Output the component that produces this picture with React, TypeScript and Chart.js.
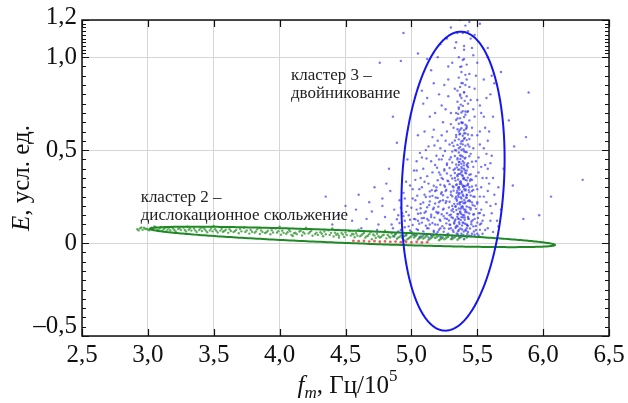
import React, { useEffect, useRef } from "react";
import { Chart, registerables } from "chart.js";
Chart.register(...registerables);

// ---------- axes ----------
const xMin = 2.5;
const xMax = 6.5;
const yMin = -0.5;
const yMax = 1.2;
const xTickValues = [2.5, 3.0, 3.5, 4.0, 4.5, 5.0, 5.5, 6.0, 6.5];
const xTickLabels = ["2,5", "3,0", "3,5", "4,0", "4,5", "5,0", "5,5", "6,0", "6,5"];
const yTickValues = [-0.5, 0, 0.5, 1.0, 1.2];
const yTickLabels = ["–0,5", "0", "0,5", "1,0", "1,2"];
const yMinorLower = [-0.45, -0.4, -0.35, -0.3, -0.25, -0.2, -0.15, -0.1, -0.05, 0.05, 0.1, 0.15, 0.2, 0.25, 0.3, 0.35, 0.4, 0.45, 0.55, 0.6, 0.65, 0.7, 0.75, 0.8, 0.85, 0.9, 0.95];
const yMinorUpper = [1.02, 1.04, 1.06, 1.08, 1.1, 1.12, 1.14, 1.16, 1.18];

// ---------- series ----------
const bluePoints: number[][] = [
  [5.38,0.05],[5.41,0.07],[5.35,0.09],[5.44,0.04],[5.32,0.06],[5.39,0.11],[5.36,0.13],[5.42,0.10],[5.30,0.08],[5.47,0.09],
  [5.40,0.15],[5.37,0.17],[5.43,0.14],[5.33,0.12],[5.45,0.18],[5.39,0.19],[5.35,0.21],[5.41,0.22],[5.29,0.15],[5.48,0.13],
  [5.38,0.24],[5.42,0.26],[5.36,0.27],[5.40,0.29],[5.34,0.25],[5.44,0.23],[5.31,0.20],[5.46,0.28],[5.39,0.31],[5.37,0.33],
  [5.41,0.34],[5.35,0.36],[5.43,0.32],[5.38,0.38],[5.40,0.40],[5.36,0.42],[5.42,0.39],[5.33,0.35],[5.45,0.37],[5.39,0.44],
  [5.37,0.03],[5.43,0.06],[5.34,0.04],[5.40,0.02],[5.46,0.05],[5.28,0.05],[5.31,0.03],[5.49,0.07],[5.36,0.07],[5.42,0.08],
  [5.385,0.095],[5.405,0.125],[5.355,0.155],[5.425,0.165],[5.375,0.185],[5.395,0.215],[5.345,0.235],[5.415,0.245],[5.365,0.265],[5.435,0.285],
  [5.325,0.105],[5.455,0.115],[5.315,0.135],[5.475,0.155],[5.305,0.175],[5.465,0.205],[5.335,0.195],[5.445,0.225],[5.355,0.295],[5.405,0.305],
  [5.375,0.325],[5.395,0.345],[5.385,0.365],[5.415,0.375],[5.355,0.395],[5.425,0.415],[5.365,0.435],[5.405,0.455],[5.345,0.315],[5.445,0.335],
  [5.29,0.10],[5.30,0.26],[5.32,0.30],[5.47,0.25],[5.48,0.20],[5.50,0.11],[5.27,0.13],[5.44,0.30],[5.46,0.34],[5.33,0.40],
  [5.38,0.14],[5.41,0.18],[5.37,0.22],[5.39,0.26],[5.36,0.30],[5.42,0.31],[5.40,0.35],[5.38,0.41],[5.43,0.43],[5.35,0.45],
  [5.352,0.048],[5.398,0.062],[5.418,0.038],[5.372,0.078],[5.338,0.088],[5.428,0.092],[5.362,0.112],[5.408,0.104],[5.392,0.138],[5.348,0.142],
  [5.432,0.132],[5.378,0.158],[5.412,0.172],[5.342,0.178],[5.388,0.198],[5.438,0.192],[5.368,0.208],[5.402,0.232],[5.358,0.248],[5.422,0.258],
  [5.382,0.272],[5.348,0.282],[5.412,0.288],[5.392,0.302],[5.368,0.318],[5.428,0.352],[5.382,0.388],[5.358,0.372],[5.398,0.418],[5.372,0.452],
  [5.38,0.47],[5.41,0.49],[5.36,0.51],[5.43,0.53],[5.39,0.55],[5.34,0.57],[5.40,0.59],[5.37,0.61],[5.42,0.63],[5.38,0.65],
  [5.35,0.67],[5.41,0.69],[5.39,0.71],[5.36,0.73],[5.43,0.75],[5.38,0.78],[5.40,0.81],[5.37,0.84],[5.33,0.50],[5.45,0.48],
  [5.31,0.54],[5.46,0.58],[5.32,0.62],[5.44,0.66],[5.30,0.70],[5.47,0.72],[5.35,0.76],[5.42,0.79],[5.39,0.86],[5.36,0.89],
  [5.395,0.505],[5.375,0.535],[5.405,0.565],[5.365,0.585],[5.415,0.615],[5.385,0.645],[5.355,0.695],[5.425,0.705],[5.375,0.745],[5.405,0.765],
  [5.38,0.92],[5.42,0.96],[5.36,1.00],[5.40,1.04],[5.34,1.08],[5.45,1.10],[5.39,1.13],[5.41,1.17],[5.30,1.16],[5.52,1.18],
  [5.28,0.95],[5.49,0.90],[5.25,0.85],[5.55,0.88],[5.20,1.00],[5.58,1.05],[5.15,0.93],[5.47,1.01],[5.33,1.05],[5.44,0.84],
  [5.12,0.78],[5.60,0.80],[5.18,0.70],[5.52,0.74],[5.08,0.82],[5.63,0.86],[5.24,0.65],[5.56,0.62],[5.05,1.02],[4.92,0.98],
  [5.37,1.20],[5.44,1.19],[5.68,0.92],[5.27,1.10],[5.50,0.97],[5.10,0.60],[5.20,0.55],[5.58,0.55],[5.62,0.68],[5.48,0.83],
  [5.25,0.08],[5.22,0.12],[5.20,0.06],[5.18,0.10],[5.15,0.14],[5.12,0.08],[5.10,0.05],[5.08,0.11],[5.05,0.07],[5.02,0.13],
  [5.00,0.06],[4.98,0.09],[4.95,0.12],[4.92,0.07],[4.90,0.15],[5.24,0.18],[5.21,0.22],[5.17,0.19],[5.14,0.25],[5.11,0.17],
  [5.07,0.21],[5.04,0.18],[5.01,0.24],[4.97,0.20],[4.94,0.27],[5.26,0.28],[5.19,0.30],[5.13,0.32],[5.06,0.29],[5.23,0.35],
  [5.16,0.38],[5.09,0.40],[5.27,0.42],[5.21,0.45],[5.03,0.34],[4.99,0.31],[5.26,0.04],[5.23,0.03],[5.16,0.04],[5.13,0.03],
  [5.09,0.04],[5.06,0.03],[5.03,0.04],[4.88,0.05],[4.85,0.10],[5.245,0.145],[5.205,0.165],[5.185,0.245],[5.135,0.205],[5.095,0.135],
  [5.265,0.225],[5.225,0.265],[5.155,0.285],[5.045,0.255],[5.275,0.335],[5.195,0.405],[5.115,0.455],[5.255,0.495],[5.175,0.525],[5.065,0.485],
  [5.52,0.10],[5.55,0.15],[5.50,0.22],[5.58,0.08],[5.53,0.30],[5.60,0.20],[5.51,0.38],[5.56,0.42],[5.62,0.35],[5.54,0.05],
  [5.65,0.12],[5.57,0.48],[5.49,0.44],[5.63,0.26],[5.68,0.18],[5.52,0.53],[5.59,0.32],[5.70,0.40],[5.51,0.16],[5.55,0.25],
  [4.55,0.12],[4.62,0.08],[4.70,0.17],[4.75,0.10],[4.80,0.14],[4.68,0.22],[4.82,0.06],[4.58,0.18],[4.78,0.24],[4.40,0.10],
  [6.30,0.34],[5.77,0.31],[5.97,0.15],[6.06,0.25],[5.85,0.13],[5.78,0.52],[4.76,0.97],[4.86,0.68],[4.89,0.54],[4.94,1.13],
  [5.89,0.81],[5.87,0.57],[4.97,0.45],[4.83,0.40],[4.72,0.30],[4.78,0.20],[4.84,0.28],[4.87,0.18],[4.91,0.23],[4.81,0.32],
  [4.93,0.16],[4.86,0.08],[4.96,0.04],[4.74,0.07],[4.66,0.13],[4.50,0.20],[4.45,0.15],[4.35,0.25],[4.60,0.26],[5.74,0.66],
  [5.02,0.043],[5.07,0.036],[5.11,0.047],[5.15,0.039],[5.19,0.051],[5.22,0.034],[5.27,0.046],[5.31,0.038],[5.345,0.052],[5.365,0.033],[5.395,0.044],[5.425,0.049],[5.455,0.037],[5.48,0.045],[5.51,0.041],
  [4.99,0.068],[5.04,0.075],[5.09,0.063],[5.13,0.079],[5.17,0.066],[5.21,0.072],[5.245,0.061],[5.285,0.077],[5.315,0.069],[5.335,0.081],[5.355,0.064],[5.385,0.073],[5.415,0.067],[5.445,0.078],[5.475,0.062],[5.52,0.071],
  [5.01,0.097],[5.06,0.104],[5.11,0.093],[5.16,0.108],[5.20,0.099],[5.235,0.091],[5.265,0.106],[5.295,0.098],[5.325,0.111],[5.345,0.094],[5.365,0.103],[5.395,0.109],[5.425,0.096],[5.455,0.101],[5.49,0.092],[5.53,0.105],
  [5.03,0.128],[5.08,0.134],[5.13,0.122],[5.175,0.137],[5.215,0.126],[5.255,0.133],[5.285,0.121],[5.305,0.139],[5.335,0.127],[5.355,0.132],[5.375,0.124],[5.405,0.138],[5.435,0.129],[5.465,0.123],[5.505,0.135],
  [5.05,0.158],[5.10,0.163],[5.15,0.152],[5.19,0.167],[5.23,0.155],[5.27,0.161],[5.30,0.153],[5.32,0.168],[5.35,0.157],[5.37,0.164],[5.39,0.151],[5.41,0.166],[5.44,0.159],[5.47,0.154],[5.52,0.162],
  [5.07,0.187],[5.12,0.193],[5.165,0.182],[5.205,0.196],[5.245,0.185],[5.285,0.191],[5.315,0.183],[5.335,0.198],[5.36,0.186],[5.38,0.194],[5.40,0.181],[5.42,0.197],[5.45,0.188],[5.49,0.184],
  [5.09,0.218],[5.14,0.224],[5.18,0.213],[5.22,0.227],[5.26,0.216],[5.29,0.222],[5.325,0.211],[5.345,0.228],[5.365,0.217],[5.385,0.223],[5.405,0.214],[5.43,0.226],[5.46,0.219],[5.50,0.212],
  [5.11,0.248],[5.16,0.254],[5.20,0.243],[5.24,0.257],[5.275,0.246],[5.31,0.252],[5.335,0.241],[5.355,0.258],[5.375,0.247],[5.395,0.253],[5.42,0.244],[5.45,0.256],[5.48,0.249],
  [5.14,0.278],[5.19,0.284],[5.23,0.273],[5.265,0.287],[5.30,0.276],[5.32,0.282],[5.345,0.271],[5.365,0.288],[5.385,0.277],[5.41,0.283],[5.44,0.274],[5.47,0.286],
  [5.17,0.308],[5.22,0.314],[5.255,0.303],[5.29,0.317],[5.315,0.306],[5.34,0.312],[5.36,0.301],[5.38,0.318],[5.40,0.307],[5.43,0.313],[5.46,0.304],
  [5.20,0.338],[5.24,0.344],[5.28,0.333],[5.31,0.347],[5.335,0.336],[5.355,0.342],[5.375,0.331],[5.395,0.348],[5.42,0.337],[5.45,0.343],
  [5.22,0.368],[5.27,0.374],[5.30,0.363],[5.33,0.377],[5.35,0.366],[5.37,0.372],[5.39,0.361],[5.41,0.378],[5.44,0.367],
  [5.25,0.398],[5.29,0.404],[5.32,0.393],[5.345,0.407],[5.365,0.396],[5.385,0.402],[5.405,0.391],[5.43,0.408],
  [5.27,0.428],[5.31,0.434],[5.34,0.423],[5.36,0.437],[5.38,0.426],[5.40,0.432],[5.42,0.421],[5.46,0.438],
  [5.30,0.462],[5.33,0.468],[5.35,0.457],[5.37,0.471],[5.39,0.464],[5.41,0.459],[5.44,0.467],
  [5.31,0.492],[5.34,0.498],[5.36,0.487],[5.38,0.501],[5.40,0.494],[5.42,0.489],
  [5.32,0.522],[5.35,0.528],[5.37,0.517],[5.39,0.531],[5.41,0.524],[5.44,0.519],
  [5.33,0.552],[5.36,0.558],[5.38,0.547],[5.40,0.561],[5.42,0.554],
  [5.34,0.582],[5.37,0.588],[5.39,0.577],[5.41,0.591],[5.43,0.584],
  [5.35,0.612],[5.38,0.618],[5.40,0.607],[5.42,0.621],
  [5.36,0.642],[5.39,0.648],[5.41,0.637],[5.37,0.672],[5.40,0.678],[5.34,0.662],
  [5.38,0.702],[5.41,0.708],[5.36,0.721],[5.39,0.738],[5.37,0.792],[5.40,0.812],[5.38,0.861],[5.41,0.905],[5.37,0.948],[5.39,0.985],[5.40,1.06],
  [5.02,0.39],[5.08,0.46],[5.13,0.52],[5.17,0.61],[5.23,0.58],[5.26,0.72],[5.21,0.80],[5.28,0.88],[5.15,0.44],[5.05,0.58],
  [5.52,0.60],[5.55,0.68],[5.50,0.77],[5.58,0.40],[5.61,0.47],[5.54,0.35],[5.57,0.22],[5.60,0.12],[5.62,0.06],[5.66,0.30],
  [4.87,0.035],[4.90,0.062],[4.93,0.041],[4.95,0.085],[4.97,0.052],[4.91,0.108],[4.89,0.128],[4.94,0.145],[4.99,0.125],[4.96,0.168],
  [5.12,0.36],[5.18,0.42],[5.24,0.47],[5.29,0.53],[5.47,0.51],[5.51,0.46],[5.49,0.31],[5.53,0.41],[5.27,0.60],[5.46,0.62],
  [5.22,0.51],[5.16,0.57],[5.30,0.64],[5.48,0.68],[5.28,0.79],[5.45,0.77],[5.33,0.83],[5.44,0.91],[5.31,0.97],[5.46,1.05],
  [5.25,0.39],[5.19,0.47],[5.11,0.50],[5.07,0.35],[5.04,0.44],[5.55,0.51],[5.59,0.60],[5.53,0.70],[5.57,0.78],[5.61,0.90],
  [5.23,0.74],[5.14,0.68],[5.09,0.75],[5.17,0.86],[5.12,0.99],[5.22,1.07],[5.35,1.13],[5.43,1.14],[5.48,1.12],[5.58,1.00],
  [5.50,0.58],[5.26,0.55],[5.29,0.45],[5.47,0.41],[5.49,0.36],[5.25,0.31],[5.21,0.38],[5.50,0.29],[5.52,0.25],[5.23,0.45],
  [4.92,0.19],[4.95,0.24],[4.98,0.15],[5.00,0.19],[5.03,0.23],[5.05,0.12],[5.07,0.16],[5.10,0.26],[5.12,0.13],[5.14,0.10],
  [5.17,0.06],[5.20,0.16],[5.22,0.08],[5.24,0.23],[5.18,0.28],[5.08,0.30],[5.01,0.29],[4.96,0.33],[5.04,0.39],[5.10,0.33],
  [5.53,0.18],[5.56,0.07],[5.58,0.28],[5.61,0.16],[5.64,0.21],[5.50,0.05],[5.54,0.12],[5.57,0.35],[5.60,0.43],[5.66,0.09],
  [5.36,0.60],[5.44,0.56],[5.34,0.70],[5.43,0.71],[5.37,0.80],[5.41,0.85],[5.35,0.82],[5.42,0.88],[5.38,0.95],[5.40,0.99],
];

const greenPoints: number[][] = [
  [2.92,0.074],[2.94,0.079],[2.96,0.071],[2.97,0.082],[2.99,0.076],[3.01,0.069],[3.02,0.080],[3.04,0.074],[3.06,0.085],[3.07,0.071],
  [3.09,0.078],[3.11,0.066],[3.13,0.081],[3.15,0.073],[3.17,0.069],[3.19,0.079],[3.21,0.064],[3.23,0.075],[3.25,0.070],[3.27,0.083],
  [3.29,0.062],[3.31,0.072],[3.33,0.067],[3.35,0.078],[3.37,0.060],[3.39,0.070],[3.41,0.065],[3.43,0.076],[3.45,0.058],[3.47,0.068],
  [3.49,0.063],[3.51,0.074],[3.53,0.057],[3.55,0.067],[3.57,0.061],[3.59,0.072],[3.61,0.055],[3.63,0.065],[3.65,0.059],[3.67,0.071],
  [3.69,0.053],[3.71,0.063],[3.73,0.082],[3.75,0.068],[3.77,0.051],[3.79,0.061],[3.81,0.056],[3.83,0.074],[3.85,0.049],[3.87,0.059],
  [3.89,0.054],[3.91,0.066],[3.93,0.047],[3.95,0.057],[3.97,0.078],[3.99,0.064],[4.01,0.045],[4.03,0.055],[4.05,0.050],[4.07,0.071],
  [4.09,0.043],[4.11,0.053],[4.13,0.048],[4.15,0.062],[4.17,0.041],[4.19,0.051],[4.21,0.074],[4.23,0.060],[4.25,0.039],[4.27,0.049],
  [4.29,0.044],[4.31,0.058],[4.33,0.037],[4.35,0.047],[4.37,0.069],[4.39,0.055],[4.41,0.035],[4.43,0.045],[4.45,0.040],[4.47,0.054],
  [4.49,0.033],[4.51,0.043],[4.53,0.064],[4.55,0.050],[4.57,0.031],[4.59,0.041],[4.61,0.036],[4.63,0.049],[4.65,0.029],[4.67,0.039],
  [4.69,0.058],[4.71,0.046],[4.73,0.027],[4.75,0.037],[4.77,0.032],[4.79,0.045],[4.81,0.025],[4.83,0.035],[4.85,0.052],[4.87,0.041],
  [4.89,0.023],[4.91,0.033],[4.93,0.028],[4.95,0.040],[4.97,0.021],[4.99,0.031],[5.01,0.046],[5.03,0.036],[5.05,0.019],[5.07,0.029],
  [5.09,0.024],[5.11,0.035],[5.13,0.017],[5.15,0.027],[5.17,0.040],[5.19,0.031],[5.21,0.015],[5.23,0.025],[5.25,0.020],[5.27,0.030],
  [3.30,0.088],[3.60,0.085],[3.85,0.082],[4.00,0.088],[4.20,0.083],[4.40,0.079],[4.60,0.072],[4.80,0.066],[5.00,0.058],[3.50,0.092],
  [4.10,0.038],[4.45,0.030],[4.70,0.021],[4.95,0.014],[5.30,0.022],[5.35,0.018],[5.32,0.028],[3.05,0.090],[3.18,0.087],[3.42,0.084],
  [2.93,0.068],[2.95,0.084],[2.98,0.077],[3.00,0.073],[3.03,0.082],[3.08,0.068],[3.10,0.086],[3.12,0.075],[3.14,0.063],[3.16,0.083],
  [3.20,0.072],[3.24,0.081],[3.28,0.070],[3.32,0.079],[3.36,0.068],[3.40,0.080],[3.44,0.067],[3.48,0.078],[3.52,0.066],[3.56,0.077],
  [3.58,0.064],[3.62,0.074],[3.66,0.064],[3.70,0.075],[3.74,0.060],[3.78,0.071],[3.82,0.062],[3.86,0.068],[3.90,0.058],[3.94,0.069],
  [3.98,0.056],[4.02,0.066],[4.06,0.058],[4.08,0.063],[4.12,0.056],[4.16,0.066],[4.18,0.058],[4.22,0.052],[4.24,0.066],[4.28,0.056],
  [4.32,0.050],[4.34,0.062],[4.38,0.044],[4.42,0.056],[4.44,0.050],[4.48,0.046],[4.50,0.057],[4.54,0.040],[4.56,0.046],[4.58,0.053],
  [4.62,0.042],[4.64,0.054],[4.66,0.036],[4.68,0.048],[4.72,0.040],[4.74,0.050],[4.76,0.030],[4.78,0.041],[4.82,0.044],[4.84,0.030],
  [4.86,0.037],[4.88,0.048],[4.90,0.029],[4.92,0.040],[4.94,0.034],[4.96,0.046],[4.98,0.026],[5.00,0.037],[5.02,0.030],[5.04,0.043],
  [5.06,0.025],[5.08,0.034],[5.10,0.029],[5.12,0.040],[5.14,0.022],[5.16,0.032],[5.18,0.027],[5.20,0.037],[5.22,0.021],[5.24,0.030],
  [5.26,0.025],[5.28,0.034],[5.31,0.021],[5.33,0.031],[5.36,0.025],[5.38,0.032],[5.40,0.024],[5.42,0.030],
];

const redPoints: number[][] = [
  [4.56,0.012],[4.60,0.010],[4.64,0.011],[4.68,0.008],[4.72,0.010],[4.76,0.007],[4.80,0.009],[4.84,0.006],
  [4.88,0.008],[4.92,0.005],[4.96,0.007],[5.00,0.004],[5.04,0.006],[5.08,0.003],[5.12,0.005],
];

// fitted cluster ellipses: centre and semi-axis vectors, in data units
const greenEllipse = { cx: 4.553, cy: 0.033, ax: 1.537, ay: -0.0433, bx: -0.0019, by: -0.0338 };
const blueEllipse = { cx: 5.316, cy: 0.333, ax: 0.066, ay: 0.804, bx: 0.386, by: -0.0159 };

// annotations (anchor in data units)
const note3 = { x: 4.086, y: 0.877, lines: ["кластер 3 –", "двойникование"] };
const note2 = { x: 2.945, y: 0.221, lines: ["кластер 2 –", "дислокационное скольжение"] };

const SERIF = '"Liberation Serif", "Times New Roman", serif';

const decorPlugin = {
  id: "decor",
  afterDatasetsDraw(chart: any) {
    const { ctx, chartArea: a, scales } = chart;
    const xs = scales.x;
    const ys = scales.y;
    const px = (v: number) => xs.getPixelForValue(v);
    const py = (v: number) => ys.getPixelForValue(v);
    ctx.save();

    const drawEllipse = (e: any, color: string) => {
      ctx.beginPath();
      for (let i = 0; i <= 360; i += 1) {
        const t = (i * Math.PI) / 180;
        const dx = e.cx + e.ax * Math.cos(t) + e.bx * Math.sin(t);
        const dy = e.cy + e.ay * Math.cos(t) + e.by * Math.sin(t);
        if (i === 0) ctx.moveTo(px(dx), py(dy));
        else ctx.lineTo(px(dx), py(dy));
      }
      ctx.closePath();
      ctx.strokeStyle = color;
      ctx.lineWidth = 2;
      ctx.stroke();
    };
    drawEllipse(greenEllipse, "#1f8a25");
    drawEllipse(blueEllipse, "#1515f0");

    ctx.strokeStyle = "#111";
    ctx.lineWidth = 1.5;
    ctx.strokeRect(a.left, a.top, a.right - a.left, a.bottom - a.top);

    ctx.lineWidth = 1.2;
    ctx.beginPath();
    xTickValues.forEach((v) => {
      const x = Math.round(px(v)) + 0.5;
      ctx.moveTo(x, a.bottom);
      ctx.lineTo(x, a.bottom - 7);
      ctx.moveTo(x, a.top);
      ctx.lineTo(x, a.top + 7);
    });
    yTickValues.forEach((v) => {
      const y = Math.round(py(v)) + 0.5;
      ctx.moveTo(a.left, y);
      ctx.lineTo(a.left + 7, y);
      ctx.moveTo(a.right, y);
      ctx.lineTo(a.right - 7, y);
    });
    [...yMinorLower, ...yMinorUpper].forEach((v) => {
      const y = Math.round(py(v)) + 0.5;
      ctx.moveTo(a.left, y);
      ctx.lineTo(a.left + 4, y);
      ctx.moveTo(a.right, y);
      ctx.lineTo(a.right - 4, y);
    });
    ctx.stroke();

    ctx.fillStyle = "#111";
    ctx.font = `25px ${SERIF}`;
    ctx.textAlign = "center";
    ctx.textBaseline = "alphabetic";
    xTickValues.forEach((v, i) => {
      ctx.fillText(xTickLabels[i], px(v), a.bottom + 26);
    });
    ctx.textAlign = "right";
    ctx.textBaseline = "middle";
    yTickValues.forEach((v, i) => {
      let y = py(v);
      if (v === yMin) y -= 10;
      if (v === yMax) y -= 3;
      ctx.fillText(yTickLabels[i], a.left - 5, y);
    });

    ctx.textAlign = "left";
    ctx.textBaseline = "alphabetic";
    const parts = [
      { t: "f", f: `italic 25px ${SERIF}`, dy: 0 },
      { t: "m", f: `italic 17px ${SERIF}`, dy: 5 },
      { t: ", Гц/10", f: `25px ${SERIF}`, dy: 0 },
      { t: "5", f: `17px ${SERIF}`, dy: -12 },
    ];
    let total = 0;
    parts.forEach((p) => {
      ctx.font = p.f;
      total += ctx.measureText(p.t).width;
    });
    let cx = (a.left + a.right) / 2 + 2 - total / 2;
    const base = 393;
    parts.forEach((p) => {
      ctx.font = p.f;
      ctx.fillText(p.t, cx, base + p.dy);
      cx += ctx.measureText(p.t).width;
    });

    ctx.save();
    ctx.translate(29, (a.top + a.bottom) / 2);
    ctx.rotate(-Math.PI / 2);
    const yparts = [
      { t: "E", f: `italic 25px ${SERIF}` },
      { t: ", усл. ед.", f: `25px ${SERIF}` },
    ];
    let yt = 0;
    yparts.forEach((p) => {
      ctx.font = p.f;
      yt += ctx.measureText(p.t).width;
    });
    let yx = -yt / 2;
    yparts.forEach((p) => {
      ctx.font = p.f;
      ctx.fillText(p.t, yx, 0);
      yx += ctx.measureText(p.t).width;
    });
    ctx.restore();

    ctx.font = `17px ${SERIF}`;
    ctx.fillStyle = "#222";
    [note3, note2].forEach((n) => {
      n.lines.forEach((line, i) => {
        ctx.fillText(line, px(n.x), py(n.y) + i * 18);
      });
    });

    ctx.restore();
  },
};

export default function App() {
  const ref = useRef<HTMLCanvasElement | null>(null);
  useEffect(() => {
    if (!ref.current) return;
    const toXY = (arr: number[][]) => arr.map((p) => ({ x: p[0], y: p[1] }));
    const chart = new Chart(ref.current, {
      type: "scatter",
      data: {
        datasets: [
          { label: "red", data: toXY(redPoints), backgroundColor: "rgba(225,80,80,0.9)", borderWidth: 0, pointRadius: 1.4 },
          { label: "cluster2", data: toXY(greenPoints), backgroundColor: "rgba(40,150,40,0.75)", borderWidth: 0, pointRadius: 1.2 },
          { label: "cluster3", data: toXY(bluePoints), backgroundColor: "rgba(60,60,245,0.7)", borderWidth: 0, pointRadius: 1.2 },
        ],
      },
      options: {
        responsive: false,
        animation: false,
        devicePixelRatio: 1,
        events: [],
        layout: { padding: { left: 82, right: 19, top: 20, bottom: 67 } },
        plugins: { legend: { display: false }, tooltip: { enabled: false } },
        scales: {
          x: {
            type: "linear",
            min: xMin,
            max: xMax,
            afterBuildTicks: (s: any) => { s.ticks = xTickValues.map((v) => ({ value: v })); },
            afterFit: (s: any) => { s.height = 0; },
            ticks: { display: false },
            grid: { color: "#d6d6d6", lineWidth: 1, drawTicks: false },
            border: { display: false },
          },
          y: {
            type: "linear",
            min: yMin,
            max: yMax,
            afterBuildTicks: (s: any) => { s.ticks = yTickValues.map((v) => ({ value: v })); },
            afterFit: (s: any) => { s.width = 0; },
            ticks: { display: false },
            grid: { color: "#d6d6d6", lineWidth: 1, drawTicks: false },
            border: { display: false },
          },
        },
      },
      plugins: [decorPlugin],
    });
    return () => chart.destroy();
  }, []);
  return (
    <div style={{ position: "absolute", left: 0, top: 0, width: 628, height: 403, background: "#fff" }}>
      <canvas ref={ref} width={628} height={403} style={{ display: "block" }} />
    </div>
  );
}
